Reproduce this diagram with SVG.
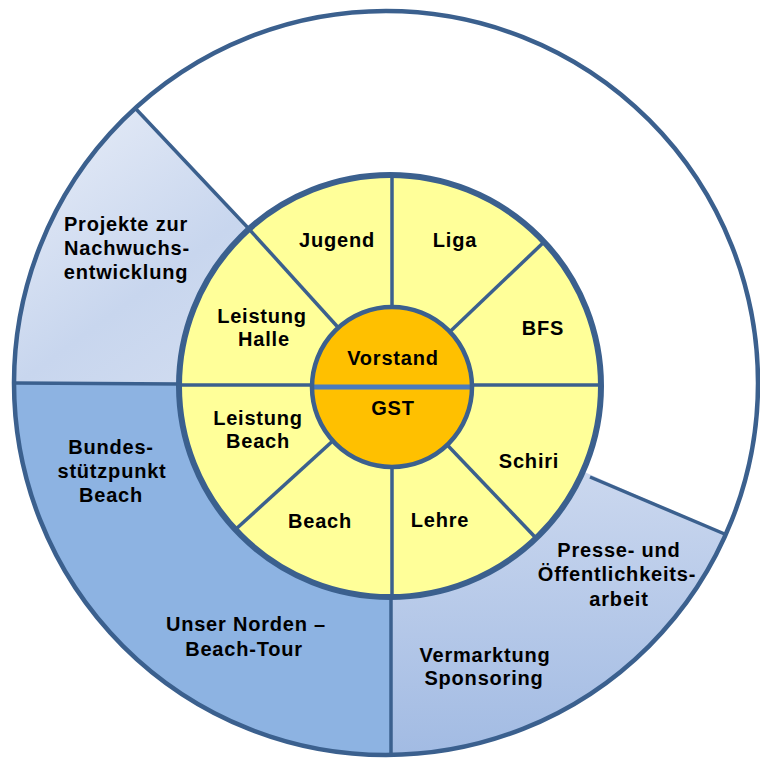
<svg xmlns="http://www.w3.org/2000/svg" width="760" height="762" viewBox="0 0 760 762">
  <defs>
    <linearGradient id="gProj" x1="0" y1="0" x2="1" y2="1">
      <stop offset="0" stop-color="#e9eef8"/>
      <stop offset="0.5" stop-color="#c8d6ee"/>
      <stop offset="1" stop-color="#d8e1f2"/>
    </linearGradient>
    <linearGradient id="gPresse" x1="0" y1="0" x2="0" y2="1">
      <stop offset="0" stop-color="#d7e0f2"/>
      <stop offset="1" stop-color="#a2bbe3"/>
    </linearGradient>
    <style>
      .ln { stroke: #3b608e; fill: none; stroke-linecap: butt; }
      .spoke { stroke: #3b608e; stroke-width: 3.5; fill: none; }
      .yel { fill: #ffff99; }
      .org { fill: #ffc000; }
      text { font-family: "Liberation Sans", Arial, sans-serif; font-weight: bold; font-size: 20px; letter-spacing: 0.8px; fill: #000; text-anchor: middle; }
    </style>
  </defs>
  <rect width="760" height="762" fill="#ffffff"/>

  <!-- outer ring background -->
  <circle cx="386" cy="383" r="372" fill="#ffffff"/>

  <g id="projekte">
    <path d="M390,386 L14,383 A372,372 0 0 1 136,109 Z" fill="url(#gProj)"/>
    <text x="126" y="231">Projekte zur</text>
    <text x="127" y="255">Nachwuchs-</text>
    <text x="126" y="279">entwicklung</text>
  </g>
  <g id="bundes">
    <path d="M390,386 L391,755 A372,372 0 0 1 14,383 Z" fill="#8db3e2"/>
    <text x="111" y="454">Bundes-</text>
    <text x="112" y="478">stützpunkt</text>
    <text x="111" y="502">Beach</text>
    <text x="246" y="631">Unser Norden –</text>
    <text x="244" y="656">Beach-Tour</text>
  </g>
  <g id="presse">
    <path d="M390,386 L727,535 A372,372 0 0 1 391,755 Z" fill="url(#gPresse)"/>
    <text x="619" y="557">Presse- und</text>
    <text x="617" y="581">Öffentlichkeits-</text>
    <text x="619" y="606">arbeit</text>
    <text x="485" y="662">Vermarktung</text>
    <text x="484" y="685">Sponsoring</text>
  </g>

  <g id="outer-dividers">
    <line class="spoke" x1="249" y1="229" x2="136" y2="109"/>
    <line class="spoke" x1="180" y1="384" x2="14" y2="383"/>
    <line class="spoke" x1="391" y1="597" x2="391" y2="755"/>
    <line class="spoke" x1="590" y1="477" x2="727" y2="535"/>
  </g>
  <circle class="ln" cx="386" cy="383" r="372" stroke-width="4.5"/>

  <!-- yellow ring segments -->
  <g id="jugend">
    <path class="yel" d="M390,386 L248.8,229.2 A211,211 0 0 1 391,175 Z"/>
    <text x="337" y="247">Jugend</text>
  </g>
  <g id="liga">
    <path class="yel" d="M390,386 L391,175 A211,211 0 0 1 544.3,242.1 Z"/>
    <text x="455" y="247">Liga</text>
  </g>
  <g id="bfs">
    <path class="yel" d="M390,386 L544.3,242.1 A211,211 0 0 1 601,386 Z"/>
    <text x="543" y="335">BFS</text>
  </g>
  <g id="schiri">
    <path class="yel" d="M390,386 L601,386 A211,211 0 0 1 536.6,537.8 Z"/>
    <text x="529" y="468">Schiri</text>
  </g>
  <g id="lehre">
    <path class="yel" d="M390,386 L536.6,537.8 A211,211 0 0 1 391,597 Z"/>
    <text x="440" y="527">Lehre</text>
  </g>
  <g id="beach">
    <path class="yel" d="M390,386 L391,597 A211,211 0 0 1 235.7,529.9 Z"/>
    <text x="320" y="528">Beach</text>
  </g>
  <g id="leistung-beach">
    <path class="yel" d="M390,386 L235.7,529.9 A211,211 0 0 1 179,386 Z"/>
    <text x="258" y="425">Leistung</text>
    <text x="258" y="448">Beach</text>
  </g>
  <g id="leistung-halle">
    <path class="yel" d="M390,386 L179,386 A211,211 0 0 1 248.8,229.2 Z"/>
    <text x="262" y="323">Leistung</text>
    <text x="264" y="346">Halle</text>
  </g>

  <g id="inner-dividers">
    <line class="spoke" x1="392" y1="387" x2="392" y2="175"/>
    <line class="spoke" x1="392" y1="387" x2="392" y2="597"/>
    <line class="spoke" x1="392" y1="385" x2="180" y2="385"/>
    <line class="spoke" x1="392" y1="385" x2="600" y2="385"/>
    <line class="spoke" x1="392" y1="387" x2="249" y2="229"/>
    <line class="spoke" x1="392" y1="387" x2="544" y2="242"/>
    <line class="spoke" x1="392" y1="387" x2="535" y2="537"/>
    <line class="spoke" x1="392" y1="387" x2="236" y2="529"/>
  </g>
  <circle class="ln" cx="390" cy="386" r="211" stroke-width="6"/>

  <g id="vorstand">
    <path class="org" d="M312,387 A80,80 0 0 1 472,387 Z"/>
    <text x="393" y="365">Vorstand</text>
  </g>
  <g id="gst">
    <path class="org" d="M312,387 A80,80 0 0 0 472,387 Z"/>
    <text x="393" y="415">GST</text>
  </g>
  <line x1="312" y1="387" x2="472" y2="387" stroke="#4a7bbd" stroke-width="5"/>
  <circle class="ln" cx="392" cy="387" r="80" stroke-width="4.5"/>
</svg>
